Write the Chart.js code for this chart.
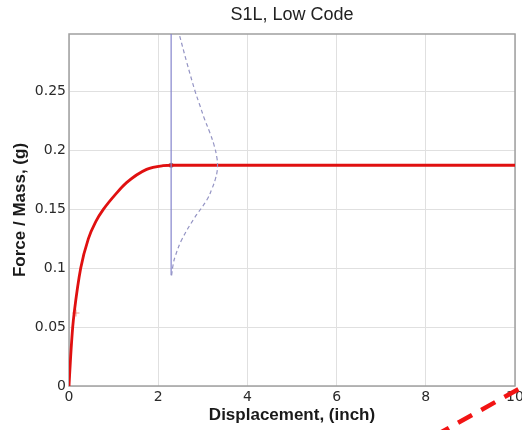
<!DOCTYPE html>
<html>
<head>
<meta charset="utf-8">
<title>S1L, Low Code</title>
<script src="https://cdn.jsdelivr.net/npm/chart.js@4.4.1/dist/chart.umd.min.js"></script>
<style>
    html, body { margin: 0; padding: 0; background: #fff; }
    canvas { display: block; }
</style>
</head>
<body>
<canvas id="capacityChart" width="522" height="430"></canvas>
<script>
// Capacity curve (force / mass vs displacement)
const capacityX = [0, 0.037, 0.083, 0.119, 0.262, 0.433, 0.6, 0.77, 1.07, 1.29, 1.74, 2.11, 2.29, 10];
const capacityY = [0, 0.025, 0.05, 0.063, 0.1, 0.125, 0.1396, 0.15, 0.164, 0.1727, 0.184, 0.1872, 0.1875, 0.1875];

// Performance point and its vertical marker
const perfX = [2.29, 2.29];
const perfY = [0.094, 0.299];

// Distribution drawn sideways from the performance point
const distX = [2.30, 2.33, 2.38, 2.53, 2.79, 3.09, 3.21, 3.28, 3.32, 3.33, 3.32, 3.26, 3.16, 3.04, 2.92, 2.83, 2.64, 2.47];
const distY = [0.094, 0.102, 0.110, 0.1244, 0.1414, 0.158, 0.168, 0.1755, 0.182, 0.187, 0.193, 0.2036, 0.215, 0.2266, 0.24, 0.25, 0.275, 0.299];

// Yield marker on the capacity curve
const yieldX = [0.157];
const yieldY = [0.062];

// Red dashed leader running off the bottom-right corner
const leaderX = [8.204, 10.34];
const leaderY = [-0.0422, 0.0028];

// Axes
const xTickValues = [0, 2, 4, 6, 8, 10];
const xTickLabels = ['0', '2', '4', '6', '8', '10'];
const yTickValues = [0, 0.05, 0.1, 0.15, 0.2, 0.25];
const yTickLabels = ['0', '0.05', '0.1', '0.15', '0.2', '0.25'];
const xMin = 0, xMax = 10;
const yMin = 0, yMax = 0.299;

const toPoints = (xs, ys) => xs.map((x, i) => ({ x: x, y: ys[i] }));

const LABEL_FONT = "'Liberation Sans', Arial, Helvetica, sans-serif";
const TICK_FONT = "'DejaVu Sans', 'Liberation Sans', sans-serif";

// Box round the plot area, drawn under the data
const frameBox = {
    id: 'frameBox',
    beforeDatasetsDraw(chart) {
        const { ctx, chartArea: a } = chart;
        ctx.save();
        ctx.strokeStyle = '#a0a0a0';
        ctx.lineWidth = 1.5;
        ctx.strokeRect(a.left, a.top, a.right - a.left, a.bottom - a.top);
        ctx.restore();
    }
};

new Chart(document.getElementById('capacityChart'), {
    type: 'scatter',
    data: {
        datasets: [
            {
                label: 'Distribution',
                data: toPoints(distX, distY),
                showLine: true,
                borderColor: '#9494c4',
                borderWidth: 1.2,
                borderDash: [4, 3],
                tension: 0.4,
                pointRadius: 0,
            },
            {
                label: 'Performance point',
                data: toPoints(perfX, perfY),
                showLine: true,
                borderColor: '#8484cc',
                borderWidth: 1.2,
                pointRadius: 0,
            },
            {
                label: 'Capacity',
                data: toPoints(capacityX, capacityY),
                showLine: true,
                borderColor: '#e01010',
                borderWidth: 2.8,
                cubicInterpolationMode: 'monotone',
                pointRadius: 0,
            },
            {
                label: 'Intersection',
                data: [{ x: perfX[0], y: capacityY[capacityY.length - 1] }],
                pointRadius: 2.5,
                pointBackgroundColor: '#8a7a80',
                pointBorderWidth: 0,
            },
            {
                label: 'Yield',
                data: toPoints(yieldX, yieldY),
                pointStyle: 'cross',
                pointRadius: 3.5,
                pointBorderColor: 'rgba(240, 120, 100, 0.7)',
                pointBorderWidth: 1,
            },
            {
                label: 'Leader',
                data: toPoints(leaderX, leaderY),
                showLine: true,
                clip: false,
                borderColor: '#f21414',
                borderWidth: 4.5,
                borderDash: [16, 10.5],
                pointRadius: 0,
            },
        ]
    },
    options: {
        responsive: false,
        animation: false,
        events: [],
        layout: { padding: { left: 0, right: 7, top: 0, bottom: 0 } },
        plugins: {
            legend: { display: false },
            tooltip: { enabled: false },
            title: {
                display: true,
                text: 'S1L, Low Code',
                fullSize: false,
                color: '#222',
                font: { family: LABEL_FONT, size: 18, weight: 'normal', lineHeight: 1.2 },
                padding: { top: 4, bottom: 8.4 },
            },
        },
        scales: {
            x: {
                type: 'linear',
                min: xMin,
                max: xMax,
                border: { display: false },
                grid: { color: '#e0e0e0', lineWidth: 1, drawTicks: false },
                afterBuildTicks(scale) {
                    scale.ticks = xTickValues.map(v => ({ value: v }));
                },
                afterFit(scale) {
                    scale.height = 44;
                    scale.paddingLeft = 0;
                    scale.paddingRight = 0;
                },
                ticks: {
                    padding: 3,
                    maxRotation: 0,
                    color: '#2a2a2a',
                    font: { family: TICK_FONT, size: 14 },
                    callback: (value, index) => xTickLabels[index],
                },
                title: {
                    display: true,
                    text: 'Displacement, (inch)',
                    color: '#1a1a1a',
                    font: { family: LABEL_FONT, size: 17, weight: 'bold', lineHeight: 1.2 },
                    padding: { top: 0, bottom: 4.8 },
                },
            },
            y: {
                type: 'linear',
                min: yMin,
                max: yMax,
                border: { display: false },
                grid: { color: '#e0e0e0', lineWidth: 1, drawTicks: false },
                afterBuildTicks(scale) {
                    scale.ticks = yTickValues.map(v => ({ value: v }));
                },
                afterFit(scale) {
                    scale.width = 69;
                    scale.paddingTop = 0;
                    scale.paddingBottom = 0;
                },
                ticks: {
                    padding: 3,
                    color: '#2a2a2a',
                    font: { family: TICK_FONT, size: 14 },
                    callback: (value, index) => yTickLabels[index],
                },
                title: {
                    display: true,
                    text: 'Force / Mass, (g)',
                    color: '#1a1a1a',
                    font: { family: LABEL_FONT, size: 17, weight: 'bold', lineHeight: 1.2 },
                    padding: { top: 9.8, bottom: 0 },
                },
            },
        },
    },
    plugins: [frameBox],
});
</script>
</body>
</html>
